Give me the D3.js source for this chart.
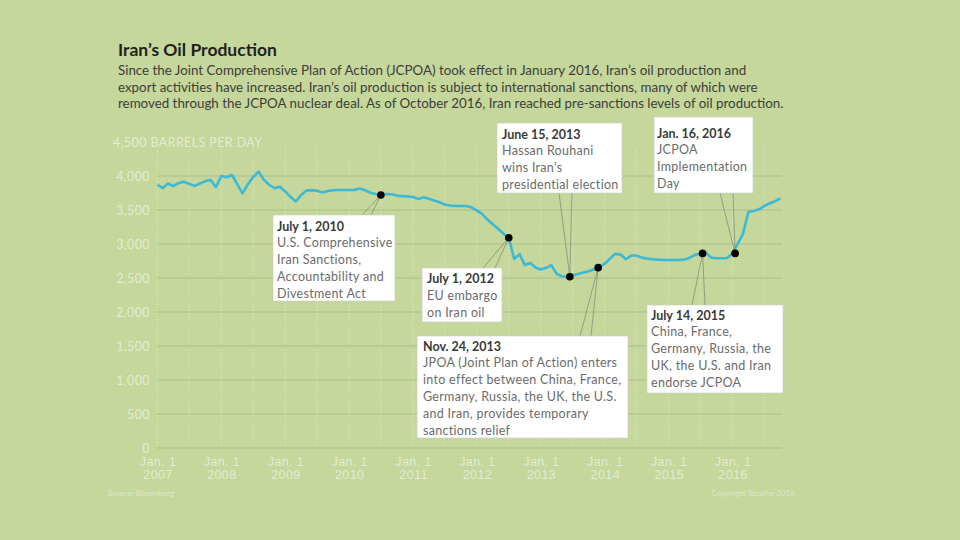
<!DOCTYPE html>
<html>
<head>
<meta charset="utf-8">
<script src="https://cdn.jsdelivr.net/npm/d3@7"></script>
<style>
  body { margin: 0; background: #c5d79a; }
  svg { display: block; font-family: Lato, "Open Sans", sans-serif; }
</style>
</head>
<body>
<div id="chart"></div>
<script>
// monthly production, thousand barrels per day, Jan 2007 .. Oct 2016
let firstMonth = "2007-01-01"
let production = [
  3868, 3822, 3890, 3853, 3895, 3915, 3885, 3855, 3890, 3925, 3940, 3835,
  4000, 3982, 4015, 3880, 3745, 3880, 3985, 4064, 3940, 3870, 3820, 3843,
  3770, 3690, 3625, 3720, 3785, 3792, 3784, 3758, 3780, 3790, 3794, 3794,
  3795, 3796, 3815, 3790, 3755, 3735, 3720, 3735, 3732, 3712, 3704, 3698,
  3690, 3660, 3686, 3665, 3640, 3615, 3580, 3565, 3560, 3559, 3559, 3540,
  3490, 3440, 3360, 3290, 3225, 3150, 3093, 2780, 2850, 2690, 2720, 2655,
  2625, 2650, 2690, 2560, 2525, 2519, 2540, 2560, 2580, 2600, 2630, 2660,
  2710, 2789, 2855, 2845, 2775, 2830, 2830, 2800, 2785, 2775, 2770, 2765,
  2765, 2765, 2765, 2770, 2799, 2840, 2860, 2870, 2800, 2790, 2790, 2795,
  2862, 3010, 3150, 3475, 3485, 3510, 3560, 3595, 3630, 3672
]

let yTicks = [0, 500, 1000, 1500, 2000, 2500, 3000, 3500, 4000, 4500]
let xTickYears = [2007, 2008, 2009, 2010, 2011, 2012, 2013, 2014, 2015, 2016]

let eventDates = ["2010-07-01", "2012-07-01", "2013-06-15", "2013-11-24", "2015-07-14", "2016-01-16"]
let eventValues = [3720, 3093, 2519, 2652, 2862, 2862]
let eventTitles = ["July 1, 2010", "July 1, 2012", "June 15, 2013", "Nov. 24, 2013", "July 14, 2015", "Jan. 16, 2016"]
let eventTexts = [
  ["U.S. Comprehensive", "Iran Sanctions,", "Accountability and", "Divestment Act"],
  ["EU embargo", "on Iran oil"],
  ["Hassan Rouhani", "wins Iran’s", "presidential election"],
  ["JPOA (Joint Plan of Action) enters", "into effect between China, France,", "Germany, Russia, the UK, the U.S.", "and Iran, provides temporary", "sanctions relief"],
  ["China, France,", "Germany, Russia, the", "UK, the U.S. and Iran", "endorse JCPOA"],
  ["JCPOA", "Implementation", "Day"]
]

let title = "Iran’s Oil Production"
let subtitle = [
  "Since the Joint Comprehensive Plan of Action (JCPOA) took effect in January 2016, Iran’s oil production and",
  "export activities have increased. Iran’s oil production is subject to international sanctions, many of which were",
  "removed through the JCPOA nuclear deal. As of October 2016, Iran reached pre-sanctions levels of oil production."
]

// callout boxes: box rect, first baseline offset, leader attach points (x1, x2) on edge
let boxes = [
  {x: 273, y: 215, w: 122, h: 86, pad: 4, top: 15.5, edge: "top", a: [362, 371]},
  {x: 422, y: 268, w: 80, h: 54, pad: 5, top: 15, edge: "top", a: [483, 495]},
  {x: 497, y: 123, w: 125, h: 70, pad: 5, top: 15.5, edge: "bottom", a: [559, 572]},
  {x: 417, y: 336, w: 211, h: 102, pad: 6, top: 14.5, edge: "top", a: [580, 591]},
  {x: 647, y: 305, w: 136, h: 88, pad: 4, top: 14.5, edge: "top", a: [692, 705]},
  {x: 654, y: 117, w: 99, h: 76, pad: 3, top: 20.5, edge: "bottom", a: [720, 733]}
]

let W = 960, H = 540
let svg = d3.select("#chart").append("svg")
    .attr("width", W)
    .attr("height", H)

svg.append("rect").attr("width", W).attr("height", H).attr("fill", "#c5d79a")

let parse = d3.timeParse("%Y-%m-%d")
let start = parse(firstMonth)
let data = production.map(function (v, i) {
    return {date: d3.timeMonth.offset(start, i), value: v}
})

let x = d3.scaleTime()
    .domain([parse("2007-01-01"), parse("2016-01-01")])
    .range([157.5, 732.5])
let y = d3.scaleLinear()
    .domain([0, 4500])
    .range([448, 142])

let gridRight = 782

// vertical dotted grid, every half year
let halfYears = d3.timeMonth.every(6).range(parse("2007-01-01"), parse("2016-08-01"))
svg.append("g").selectAll("line")
    .data(halfYears)
    .enter().append("line")
    .attr("x1", d => x(d)).attr("x2", d => x(d))
    .attr("y1", y(4500) + 6).attr("y2", y(0))
    .attr("stroke", "#dfe7cb")
    .attr("stroke-width", 1)
    .attr("stroke-dasharray", "1,2")

// horizontal grid
svg.append("g").selectAll("line")
    .data(yTicks.slice(0, -1))
    .enter().append("line")
    .attr("x1", x.range()[0]).attr("x2", gridRight)
    .attr("y1", d => y(d)).attr("y2", d => y(d))
    .attr("stroke", "#a7b58a")
    .attr("stroke-width", 0.8)

// y axis labels
let yAxis = svg.append("g")
    .attr("transform", "translate(150,0)")
    .call(d3.axisLeft(y).tickValues(yTicks).tickSize(0).tickPadding(0)
        .tickFormat(d3.format(",")))
yAxis.select(".domain").remove()
yAxis.selectAll("text")
    .attr("fill", "#e4ebd5")
    .style("font-size", "12.5px")
    .style("letter-spacing", "0.4px")
    .style("font-family", "Lato, sans-serif")
yAxis.selectAll(".tick").filter(d => d === 4500).select("text")
    .append("tspan").text(" BARRELS PER DAY")
yAxis.selectAll(".tick").filter(d => d === 4500).select("text")
    .attr("text-anchor", "start").attr("x", -37)

// x axis labels
let xAxis = svg.append("g")
    .attr("transform", "translate(0,455)")
    .call(d3.axisBottom(x)
        .tickValues(xTickYears.map(yr => new Date(yr, 0, 1)))
        .tickSize(0).tickPadding(0)
        .tickFormat(() => ""))
xAxis.select(".domain").remove()
xAxis.selectAll(".tick text").remove()
xAxis.selectAll(".tick").append("text")
    .attr("text-anchor", "middle")
    .attr("fill", "#e4ebd5")
    .style("font-size", "12.5px")
    .style("letter-spacing", "0.4px")
    .selectAll("tspan")
    .data(d => ["Jan. 1", d.getFullYear()])
    .enter().append("tspan")
    .attr("x", 0)
    .attr("y", (d, i) => 11 + i * 12.5)
    .text(d => d)

// line
let line = d3.line()
    .x(d => x(d.date))
    .y(d => y(d.value))
svg.append("path")
    .datum(data)
    .attr("fill", "none")
    .attr("stroke", "#3bb9d6")
    .attr("stroke-width", 2.6)
    .attr("stroke-linejoin", "round")
    .attr("d", line)

// callouts
let events = eventDates.map(function (d, i) {
    return {date: parse(d), value: eventValues[i], title: eventTitles[i], lines: eventTexts[i], box: boxes[i]}
})

let leaders = svg.append("g")
events.forEach(function (e) {
    let ex = x(e.date), ey = y(e.value)
    let edgeY = e.box.edge === "top" ? e.box.y : e.box.y + e.box.h
    e.box.a.forEach(function (ax) {
        leaders.append("line")
            .attr("x1", ex).attr("y1", ey)
            .attr("x2", ax).attr("y2", edgeY)
            .attr("stroke", "#7d8672")
            .attr("stroke-width", 0.7)
    })
})

let callouts = svg.append("g").selectAll("g")
    .data(events)
    .enter().append("g")
    .attr("transform", d => "translate(" + d.box.x + "," + d.box.y + ")")
callouts.append("rect")
    .attr("width", d => d.box.w)
    .attr("height", d => d.box.h)
    .attr("fill", "#ffffff")
    .attr("stroke", "#c9cbc4")
    .attr("stroke-width", 0.6)
callouts.append("text")
    .attr("x", d => d.box.pad)
    .attr("y", d => d.box.top)
    .attr("fill", "#3a3a3a")
    .style("font-size", "12.5px")
    .style("font-weight", "bold")
    .text(d => d.title)
callouts.each(function (d) {
    d3.select(this).selectAll("text.body")
        .data(d.lines)
        .enter().append("text")
        .attr("class", "body")
        .attr("x", d.box.pad)
        .attr("y", (t, i) => d.box.top + 16.8 * (i + 1))
        .attr("fill", "#6b6b6b")
        .style("font-size", "12.5px")
        .style("letter-spacing", "0.3px")
        .text(t => t)
})

// event dots
svg.append("g").selectAll("circle")
    .data(events)
    .enter().append("circle")
    .attr("cx", d => x(d.date))
    .attr("cy", d => y(d.value))
    .attr("r", 3.8)
    .attr("fill", "#000")

// title + subtitle
svg.append("text")
    .attr("x", 118).attr("y", 56)
    .attr("fill", "#1f1f1f")
    .style("font-size", "17.5px")
    .style("font-weight", "bold")
    .text(title)
svg.append("g").selectAll("text")
    .data(subtitle)
    .enter().append("text")
    .attr("x", 118)
    .attr("y", (d, i) => 75 + i * 16.5)
    .attr("fill", "#3d3d3d")
    .style("font-size", "13.35px")
    .text(d => d)

// footer
svg.append("text")
    .attr("x", 108).attr("y", 496)
    .attr("fill", "#dfe7cc")
    .style("font-size", "8px")
    .text("Source: Bloomberg")
svg.append("text")
    .attr("x", 795).attr("y", 496)
    .attr("text-anchor", "end")
    .attr("fill", "#dfe7cc")
    .style("font-size", "8px")
    .text("Copyright Stratfor 2016")
</script>
</body>
</html>
